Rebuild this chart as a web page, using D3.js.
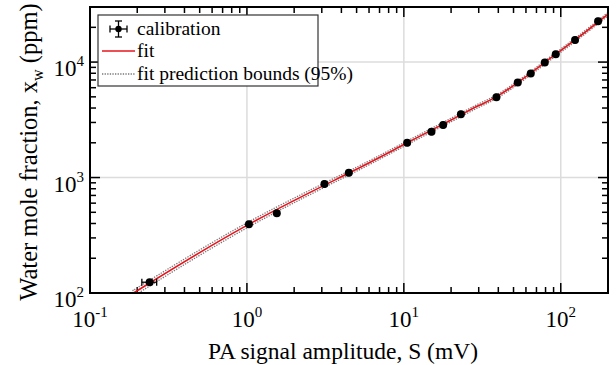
<!DOCTYPE html>
<html lang="en">
<head>
    <meta charset="UTF-8">
    <title>Water mole fraction calibration</title>
    <script src="https://d3js.org/d3.v7.min.js"></script>
    <style>
        body {
            margin: 0;
            background-color: white;
            font-family: 'Liberation Serif', 'Times New Roman', Times, serif;
        }

        .grid line {
            stroke: #dcdcdc;
            stroke-width: 1.5px;
        }
    </style>
</head>
<body>
    <div id="chart"></div>

    <script>
        // calibration points
        const signal = [0.24, 1.03, 1.55, 3.12, 4.46, 10.5, 15.0, 17.8, 23.1, 38.9, 53.2, 64.4, 79.1, 92.9, 123.3, 172.9];
        const moleFraction = [124, 393, 490, 880, 1100, 2004, 2497, 2856, 3530, 4963, 6658, 7974, 9936, 11670, 15530, 22590];
        const signalErr = [0.026, 0.015, 0.02, 0.04, 0.05, 0.12, 0.17, 0.2, 0.26, 0.44, 0.6, 0.72, 0.9, 1.05, 1.4, 1.95];
        const moleErr = [3, 7, 9, 15, 19, 34, 43, 49, 60, 85, 115, 135, 170, 200, 265, 385];

        // fit curve and prediction bounds
        const fitSignal = [0.19, 0.24, 1.0, 4.5, 10, 20, 30, 40, 60, 90, 130, 200];
        const fitValue = [100, 122, 385, 1100, 1930, 3150, 4200, 5120, 7470, 11300, 16420, 26000];
        const lowerBound = [94, 115, 366, 1056, 1860, 3040, 4055, 4945, 7220, 10930, 15880, 25120];
        const upperBound = [106, 129, 405, 1146, 2003, 3265, 4355, 5300, 7730, 11680, 16980, 26900];

        const xDomain = [0.1, 200];
        const yDomain = [100, 30000];
        const xTickExp = [-1, 0, 1, 2];
        const yTickExp = [2, 3, 4];

        const legendItems = ["calibration", "fit", "fit prediction bounds (95%)"];

        const width = 616;
        const height = 365;
        const margin = { top: 7, right: 8, bottom: 72, left: 90 };

        const svg = d3.select("#chart")
            .append("svg")
            .attr("width", width)
            .attr("height", height);

        const x = d3.scaleLog()
            .domain(xDomain)
            .range([margin.left, width - margin.right]);

        const y = d3.scaleLog()
            .domain(yDomain)
            .range([height - margin.bottom, margin.top]);

        const [x0, x1] = x.range();
        const [y0, y1] = y.range();

        // gridlines at the decades
        const grid = svg.append("g").attr("class", "grid");
        grid.selectAll(".gx")
            .data([1, 10, 100])
            .enter()
            .append("line")
            .attr("x1", d => x(d)).attr("x2", d => x(d))
            .attr("y1", y0).attr("y2", y1);
        grid.selectAll(".gy")
            .data([1000, 10000])
            .enter()
            .append("line")
            .attr("y1", d => y(d)).attr("y2", d => y(d))
            .attr("x1", x0).attr("x2", x1);

        // ticks: inward on all four sides
        function logTicks(domain) {
            const out = [];
            for (let e = -2; e <= 5; e++) {
                for (let m = 1; m <= 9; m++) {
                    const v = m * Math.pow(10, e);
                    if (v >= domain[0] * 0.999 && v <= domain[1] * 1.001) out.push({ v, major: m === 1 });
                }
            }
            return out;
        }

        const tickG = svg.append("g")
            .attr("stroke", "black")
            .attr("stroke-width", 1.5);

        logTicks(xDomain).forEach(t => {
            const len = t.major ? 10 : 6;
            tickG.append("line").attr("x1", x(t.v)).attr("x2", x(t.v)).attr("y1", y0).attr("y2", y0 - len);
            tickG.append("line").attr("x1", x(t.v)).attr("x2", x(t.v)).attr("y1", y1).attr("y2", y1 + len);
        });
        logTicks(yDomain).forEach(t => {
            const len = t.major ? 10 : 6;
            tickG.append("line").attr("y1", y(t.v)).attr("y2", y(t.v)).attr("x1", x0).attr("x2", x0 + len);
            tickG.append("line").attr("y1", y(t.v)).attr("y2", y(t.v)).attr("x1", x1).attr("x2", x1 - len);
        });

        // tick labels
        xTickExp.forEach(e => {
            const t = svg.append("text")
                .attr("x", x(Math.pow(10, e)))
                .attr("y", y0 + 34)
                .attr("text-anchor", "middle")
                .style("font-size", "23px");
            t.append("tspan").text("10");
            t.append("tspan").attr("dy", -10).style("font-size", "15px").text(e);
        });
        yTickExp.forEach(e => {
            const t = svg.append("text")
                .attr("x", x0 - 6)
                .attr("y", y(Math.pow(10, e)) + 14)
                .attr("text-anchor", "end")
                .style("font-size", "23px");
            t.append("tspan").text("10");
            t.append("tspan").attr("dy", -10).style("font-size", "15px").text(e);
        });

        // axis titles
        svg.append("text")
            .attr("x", (x0 + x1) / 2 - 6)
            .attr("y", 359)
            .attr("text-anchor", "middle")
            .style("font-size", "23.5px")
            .text("PA signal amplitude, S (mV)");

        const yTitle = svg.append("text")
            .attr("transform", `translate(37, ${(y0 + y1) / 2 + 2}) rotate(-90)`)
            .attr("text-anchor", "middle")
            .style("font-size", "24.5px");
        yTitle.append("tspan").text("Water mole fraction, x");
        yTitle.append("tspan").attr("dy", 6).style("font-size", "16px").text("w");
        yTitle.append("tspan").attr("dy", -6).text(" (ppm)");

        // clip for the curves
        svg.append("clipPath").attr("id", "plot-clip")
            .append("rect")
            .attr("x", x0).attr("y", y1)
            .attr("width", x1 - x0).attr("height", y0 - y1);

        const line = d3.line()
            .x(d => x(d[0]))
            .y(d => y(d[1]))
            .curve(d3.curveNatural);

        const curves = svg.append("g").attr("clip-path", "url(#plot-clip)");

        [lowerBound, upperBound].forEach(b => {
            curves.append("path")
                .attr("d", line(fitSignal.map((s, i) => [s, b[i]])))
                .attr("fill", "none")
                .attr("stroke", "#777")
                .attr("stroke-width", 1.3)
                .attr("stroke-dasharray", "1.3,1.3");
        });

        curves.append("path")
            .attr("d", line(fitSignal.map((s, i) => [s, fitValue[i]])))
            .attr("fill", "none")
            .attr("stroke", "#e8141c")
            .attr("stroke-width", 1.6);

        // calibration points with error bars
        const pts = svg.append("g");
        signal.forEach((s, i) => {
            const cx = x(s), cy = y(moleFraction[i]);
            const xl = x(s - signalErr[i]), xr = x(s + signalErr[i]);
            const yt = y(moleFraction[i] + moleErr[i]), yb = y(moleFraction[i] - moleErr[i]);
            const g = pts.append("g").attr("stroke", "black").attr("stroke-width", 1.3);
            g.append("line").attr("x1", xl).attr("x2", xr).attr("y1", cy).attr("y2", cy);
            g.append("line").attr("x1", xl).attr("x2", xl).attr("y1", cy - 3.5).attr("y2", cy + 3.5);
            g.append("line").attr("x1", xr).attr("x2", xr).attr("y1", cy - 3.5).attr("y2", cy + 3.5);
            g.append("line").attr("x1", cx).attr("x2", cx).attr("y1", yt).attr("y2", yb);
            g.append("circle").attr("cx", cx).attr("cy", cy).attr("r", 4).attr("fill", "black").attr("stroke", "none");
        });

        // frame
        svg.append("rect")
            .attr("x", x0).attr("y", y1)
            .attr("width", x1 - x0).attr("height", y0 - y1)
            .attr("fill", "none")
            .attr("stroke", "black")
            .attr("stroke-width", 2);

        // legend
        const lg = svg.append("g");
        lg.append("rect")
            .attr("x", 98).attr("y", 15)
            .attr("width", 220).attr("height", 71)
            .attr("fill", "white")
            .attr("stroke", "#333")
            .attr("stroke-width", 1.2);

        const rowY = [29, 51, 74];
        legendItems.forEach((name, i) => {
            lg.append("text")
                .attr("x", 137)
                .attr("y", rowY[i] + 6)
                .style("font-size", "19.5px")
                .text(name);
        });

        const sym = lg.append("g").attr("stroke", "black").attr("stroke-width", 1.3);
        sym.append("line").attr("x1", 110).attr("x2", 127).attr("y1", rowY[0]).attr("y2", rowY[0]);
        sym.append("line").attr("x1", 110).attr("x2", 110).attr("y1", rowY[0] - 3.5).attr("y2", rowY[0] + 3.5);
        sym.append("line").attr("x1", 127).attr("x2", 127).attr("y1", rowY[0] - 3.5).attr("y2", rowY[0] + 3.5);
        sym.append("line").attr("x1", 118.5).attr("x2", 118.5).attr("y1", rowY[0] - 8).attr("y2", rowY[0] + 8);
        sym.append("line").attr("x1", 115).attr("x2", 122).attr("y1", rowY[0] - 8).attr("y2", rowY[0] - 8);
        sym.append("line").attr("x1", 115).attr("x2", 122).attr("y1", rowY[0] + 8).attr("y2", rowY[0] + 8);
        sym.append("circle").attr("cx", 118.5).attr("cy", rowY[0]).attr("r", 3.2).attr("fill", "black").attr("stroke", "none");

        lg.append("line")
            .attr("x1", 102).attr("x2", 135)
            .attr("y1", rowY[1]).attr("y2", rowY[1])
            .attr("stroke", "#e8141c").attr("stroke-width", 1.6);
        lg.append("line")
            .attr("x1", 102).attr("x2", 135)
            .attr("y1", rowY[2]).attr("y2", rowY[2])
            .attr("stroke", "#777").attr("stroke-width", 1.3)
            .attr("stroke-dasharray", "1.3,1.3");
    </script>
</body>
</html>
